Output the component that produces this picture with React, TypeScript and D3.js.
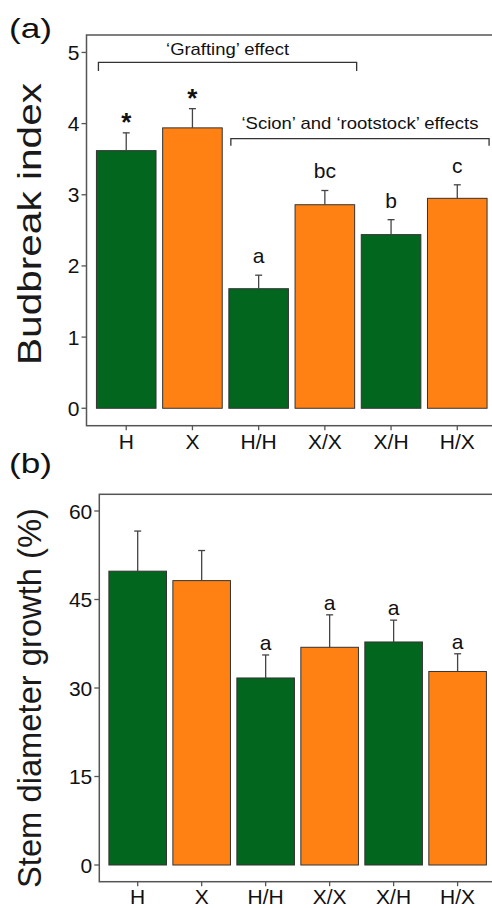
import React from "react";
import * as d3 from "d3";

// treatments (own-rooted H, X, then scion/rootstock grafts)
const categories = ["H", "X", "H/H", "X/X", "X/H", "H/X"];

// (a) budbreak index, mean and SE
const budbreakMean = [3.62, 3.94, 1.68, 2.86, 2.44, 2.95];
const budbreakSE = [0.25, 0.27, 0.19, 0.2, 0.21, 0.19];
const budbreakLetters = ["*", "*", "a", "bc", "b", "c"];
const budbreakTicks = [0, 1, 2, 3, 4, 5];

// (b) stem diameter growth (%), mean and SE
const diameterMean = [49.8, 48.2, 31.7, 36.9, 37.8, 32.8];
const diameterSE = [6.8, 5.1, 3.9, 5.5, 3.7, 3.0];
const diameterLetters = ["", "", "a", "a", "a", "a"];
const diameterTicks = [0, 15, 30, 45, 60];

// brackets over panel (a)
const brackets = [
  { from: "H", to: "X/X", y: 4.86, drop: 0.12, label: "\u2018Grafting\u2019 effect", labelWidth: 123, labelY: 55 },
  { from: "H/H", to: "H/X", y: 3.79, drop: 0.1, label: "\u2018Scion\u2019 and \u2018rootstock\u2019 effects", labelWidth: 237, labelY: 129.3 },
];

const GREEN = "#02661F";
const ORANGE = "#FF8114";
const barFill = (c: string) => (c === "H" || c === "H/H" || c === "X/H" ? GREEN : ORANGE);
const FONT = "'Liberation Sans', Arial, Helvetica, sans-serif";
const FRAME = "#555";

type PanelProps = {
  tag: string;
  tagY: number;
  title: string;
  titleLen: number;
  titleY: number;
  left: number;
  right: number;
  top: number;
  bottom: number;
  domain: [number, number];
  ticks: number[];
  means: number[];
  ses: number[];
  letters: string[];
  letterGap: number;
  xLabelY: number;
  showBrackets?: boolean;
};

function Panel(p: PanelProps) {
  const x = d3.scaleBand<string>().domain(categories).range([p.left, p.right]).paddingInner(0.1).paddingOuter(0.15);
  const y = d3.scaleLinear().domain(p.domain).range([p.bottom, p.top]);
  const bw = x.bandwidth();
  return (
    <g fontFamily={FONT}>
      <text x={9} y={p.tagY} fontSize={28} textLength={43} lengthAdjust="spacingAndGlyphs" fill="#111">
        {p.tag}
      </text>
      <text
        transform={`translate(41,${p.titleY}) rotate(-90)`}
        textAnchor="middle"
        fontSize={34}
        textLength={p.titleLen}
        lengthAdjust="spacingAndGlyphs"
        fill="#1a1a1a"
      >
        {p.title}
      </text>

      {categories.map((c, i) => (
        <rect
          key={c}
          x={x(c)}
          y={y(p.means[i])}
          width={bw}
          height={y(0) - y(p.means[i])}
          fill={barFill(c)}
          stroke="#333"
          strokeWidth={1}
        />
      ))}

      {categories.map((c, i) => {
        const cx = (x(c) as number) + bw / 2;
        const yt = y(p.means[i] + p.ses[i]);
        return (
          <g key={c} stroke="#444" strokeWidth={1.3}>
            <line x1={cx} x2={cx} y1={y(p.means[i])} y2={yt} />
            <line x1={cx - 3.5} x2={cx + 3.5} y1={yt} y2={yt} />
          </g>
        );
      })}

      {categories.map((c, i) => {
        const cx = (x(c) as number) + bw / 2;
        const yt = y(p.means[i] + p.ses[i]);
        const star = p.letters[i] === "*";
        return (
          <text
            key={c}
            x={cx}
            y={star ? yt - 2 : yt - p.letterGap}
            textAnchor="middle"
            fontSize={star ? 26 : 21}
            fontWeight={star ? "bold" : "normal"}
            fill="#111"
          >
            {p.letters[i]}
          </text>
        );
      })}

      {p.showBrackets &&
        brackets.map((b) => {
          const x1 = (x(b.from) as number) + 2;
          const x2 = (x(b.to) as number) + bw + 2;
          const yb = y(b.y);
          const yd = y(b.y - b.drop);
          return (
            <g key={b.label}>
              <path d={`M${x1},${yd}V${yb}H${x2}V${yd}`} fill="none" stroke="#333" strokeWidth={1.3} />
              <text
                x={(x1 + x2) / 2}
                y={b.labelY}
                textAnchor="middle"
                fontSize={17}
                textLength={b.labelWidth}
                lengthAdjust="spacingAndGlyphs"
                fill="#111"
              >
                {b.label}
              </text>
            </g>
          );
        })}

      <rect
        x={p.left}
        y={p.top}
        width={p.right - p.left}
        height={p.bottom - p.top}
        fill="none"
        stroke={FRAME}
        strokeWidth={1.5}
      />

      {p.ticks.map((t) => (
        <g key={t}>
          <line x1={p.left - 5} x2={p.left} y1={y(t)} y2={y(t)} stroke={FRAME} strokeWidth={1.3} />
          <text x={p.left - 7} y={y(t)} dy="0.36em" textAnchor="end" fontSize={21} fill="#111">
            {t}
          </text>
        </g>
      ))}

      {categories.map((c) => {
        const cx = (x(c) as number) + bw / 2;
        return (
          <g key={c}>
            <line x1={cx} x2={cx} y1={p.bottom} y2={p.bottom + 4.5} stroke={FRAME} strokeWidth={1.3} />
            <text x={cx} y={p.xLabelY} textAnchor="middle" fontSize={21} fill="#111">
              {c}
            </text>
          </g>
        );
      })}
    </g>
  );
}

export default function App() {
  return (
    <svg
      width={492}
      height={908}
      style={{ position: "absolute", left: 0, top: 0, background: "#fff" }}
    >
      <Panel
        tag="(a)"
        tagY={38}
        title="Budbreak index"
        titleLen={282}
        titleY={224}
        left={86.5}
        right={497}
        top={35}
        bottom={425.7}
        domain={[-0.245, 5.245]}
        ticks={budbreakTicks}
        means={budbreakMean}
        ses={budbreakSE}
        letters={budbreakLetters}
        letterGap={12}
        xLabelY={448.5}
        showBrackets
      />
      <Panel
        tag="(b)"
        tagY={473}
        title="Stem diameter growth (%)"
        titleLen={380}
        titleY={698}
        left={99.3}
        right={496}
        top={494.3}
        bottom={881.7}
        domain={[-2.83, 62.83]}
        ticks={diameterTicks}
        means={diameterMean}
        ses={diameterSE}
        letters={diameterLetters}
        letterGap={5}
        xLabelY={903.5}
      />
    </svg>
  );
}
